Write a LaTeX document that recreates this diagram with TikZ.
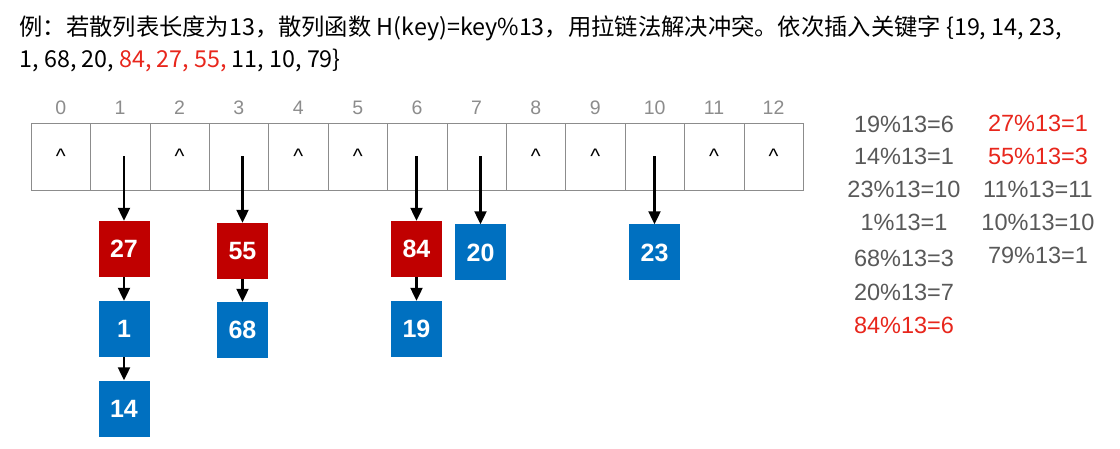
\documentclass[tikz,border=0pt]{standalone}
\usepackage{fontspec}
\setmainfont{Liberation Sans}
\newfontfamily\cjk{Noto Sans CJK SC}
\usetikzlibrary{arrows.meta}

\definecolor{keyred}{HTML}{C00000}
\definecolor{keyblue}{HTML}{0070C0}
\definecolor{hotred}{HTML}{E8261C}
\definecolor{calcgray}{HTML}{595959}
\definecolor{idxgray}{HTML}{8C8C8C}

\tikzset{
  cell/.style={draw=idxgray, minimum width=59.4pt, minimum height=67pt, inner sep=0pt,
    font=\fontsize{21}{21}\selectfont},
  idx/.style={text=idxgray, font=\fontsize{19.5}{19.5}\selectfont},
  keybox/.style={minimum width=51pt, minimum height=56pt, inner sep=0pt, text=white,
    font=\bfseries\fontsize{25}{25}\selectfont},
  redkey/.style={keybox, fill=keyred},
  bluekey/.style={keybox, fill=keyblue},
  link/.style={-{Triangle[length=13pt,width=12pt]}, line width=2.2pt},
  calc/.style={text=calcgray, font=\fontsize{23.5}{23.5}\selectfont},
}

\begin{document}
\begin{tikzpicture}[x=1pt, y=-1pt]

     \useasboundingbox[fill=white] (0,0) rectangle (1120,449);

     % question
     \node[anchor=west, font=\cjk\fontsize{23.3}{23.3}\selectfont] (q1) at (16,28)
       {例：若散列表长度为13，散列函数 H(key)=key\%13，用拉链法解决冲突。依次插入关键字 \{19, 14, 23,};
     \node[anchor=west, font=\cjk\fontsize{23.3}{23.3}\selectfont] (q2) at (16,60)
       {1, 68, 20, \textcolor{hotred}{84, 27, 55,} 11, 10, 79\}};

     % hash table
     \foreach \i/\t in {0/\textasciicircum, 1/, 2/\textasciicircum, 3/, 4/\textasciicircum,
                        5/\textasciicircum, 6/, 7/, 8/\textasciicircum, 9/\textasciicircum,
                        10/, 11/\textasciicircum, 12/\textasciicircum} {
       \node[cell] (c\i) at ({31+59.4*(\i+0.5)},156.5) {\t};
       \node[idx] (n\i) at ({31+59.4*(\i+0.5)},108) {\i};
     }

     % chains
     \node[redkey]  (k27) at (124,249) {27};
     \node[bluekey] (k1)  at (124,329) {1};
     \node[bluekey] (k14) at (124,408.5) {14};

     \node[redkey]  (k55) at (242.5,251) {55};
     \node[bluekey] (k68) at (242.5,330) {68};

     \node[redkey]  (k84) at (416.5,249) {84};
     \node[bluekey] (k19) at (416.5,329) {19};

     \node[bluekey] (k20) at (480.5,252.5) {20};
     \node[bluekey] (k23) at (654.5,252.5) {23};

     \draw[link] (k27.north |- c1.center) -- (k27.north);
     \draw[link] (k27) -- (k1);
     \draw[link] (k1) -- (k14);

     \draw[link] (k55.north |- c3.center) -- (k55.north);
     \draw[link] (k55) -- (k68);

     \draw[link] (k84.north |- c6.center) -- (k84.north);
     \draw[link] (k84) -- (k19);

     \draw[link] (k20.north |- c7.center) -- (k20.north);
     \draw[link] (k23.north |- c10.center) -- (k23.north);

     % hash values
     \node[calc] (h19) at (904,124) {19\%13=6};
     \node[calc] (h14) at (904,156) {14\%13=1};
     \node[calc] (h23) at (904,189) {23\%13=10};
     \node[calc] (h1)  at (904,222) {1\%13=1};
     \node[calc] (h68) at (904,258) {68\%13=3};
     \node[calc] (h20) at (904,292) {20\%13=7};
     \node[calc, text=hotred] (h84) at (904,325) {84\%13=6};

     \node[calc, text=hotred] (h27) at (1038,123) {27\%13=1};
     \node[calc, text=hotred] (h55) at (1038,156) {55\%13=3};
     \node[calc] (h11) at (1038,189) {11\%13=11};
     \node[calc] (h10) at (1038,222) {10\%13=10};
     \node[calc] (h79) at (1038,255) {79\%13=1};

\end{tikzpicture}
\end{document}
